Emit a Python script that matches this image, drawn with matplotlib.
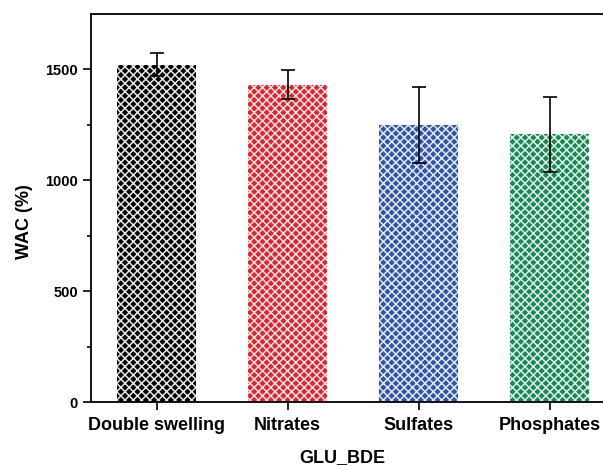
import matplotlib
matplotlib.use("Agg")
import matplotlib.pyplot as plt
import numpy as np

# data
categories = ["Double swelling", "Nitrates", "Sulfates", "Phosphates"]
wac = [1522, 1432, 1248, 1207]
wac_err = [50, 65, 172, 170]
colors = ["#000000", "#e8202a", "#2a55b0", "#0f8c52"]

plt.rcParams['font.family'] = ['Liberation Sans', 'DejaVu Sans']
plt.rcParams['font.weight'] = 'bold'
plt.rcParams['hatch.linewidth'] = 1.1

fig = plt.figure(figsize=(6.03, 4.65), dpi=100)
# axes runs off the right edge like the cropped original
ax = fig.add_axes([91 / 603, 1 - 402 / 465, 524 / 603, 388 / 465])

x = np.arange(1, len(categories) + 1)
for xi, v, c in zip(x, wac, colors):
    ax.bar(xi, v, width=0.6, color=c, edgecolor='#e6e6e6', linewidth=0,
           hatch='xxxx')
ax.errorbar(x, wac, yerr=wac_err, fmt='none', ecolor='black',
            elinewidth=1.2, capsize=5, capthick=1.2)

ax.set_xlim(0.5, 4.5)
ax.set_ylim(0, 1750)
ax.set_yticks([0, 500, 1000, 1500])
ax.set_yticks(np.arange(250, 1750, 500), minor=True)
ax.set_xticks(x)
ax.set_xticklabels(categories)
ax.tick_params(axis='both', which='major', direction='out', length=6,
               width=1.2)
ax.tick_params(axis='y', labelsize=10.5)
ax.tick_params(axis='x', labelsize=13, pad=5)
ax.tick_params(axis='y', which='minor', direction='out', length=3, width=1.2)
for s in ax.spines.values():
    s.set_linewidth(1.3)
ax.spines['right'].set_visible(False)

ax.set_ylabel("WAC (%)", fontsize=13, fontweight='bold')
ax.set_xlabel("GLU_BDE", fontsize=13, fontweight='bold')
ax.yaxis.set_label_coords(-0.111, 0.464)
ax.xaxis.set_label_coords(0.479, -0.121)

fig.savefig("out.png", dpi=100)
